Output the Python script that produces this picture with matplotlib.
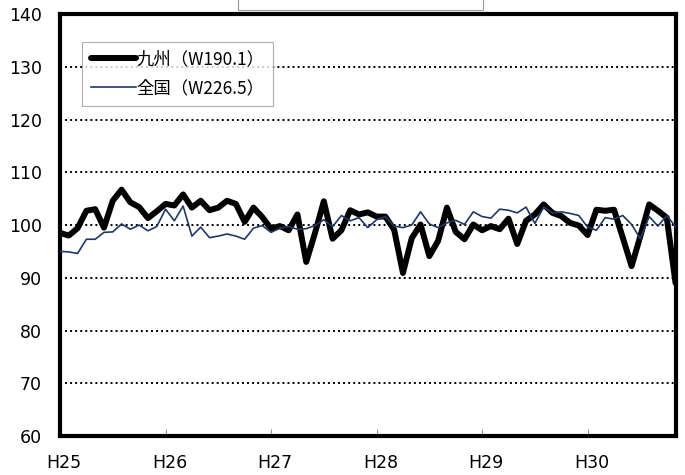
import matplotlib
matplotlib.use("Agg")
import matplotlib.pyplot as plt
import matplotlib.transforms as mtransforms
from matplotlib.patches import Rectangle

# monthly index, H25/1 .. H30/11
kyushu = [98.5, 98.0, 99.4, 102.7, 103.0, 99.5, 104.6, 106.7, 104.3, 103.4, 101.3, 102.6,
          104.0, 103.7, 105.8, 103.3, 104.6, 102.8, 103.3, 104.6, 104.0, 100.6, 103.3, 101.5,
          99.3, 99.8, 99.0, 102.0, 93.0, 98.5, 104.5, 97.4, 99.0, 102.8, 102.0, 102.4,
          101.6, 101.6, 99.1, 90.9, 97.5, 100.1, 94.1, 97.0, 103.3, 98.7, 97.3, 100.1,
          99.0, 99.8, 99.2, 101.2, 96.4, 100.8, 102.0, 103.9, 102.3, 101.7, 100.4, 99.9,
          98.1, 102.9, 102.7, 102.9, 97.6, 92.2, 97.9, 103.9, 102.7, 101.4, 89.0]
zenkoku = [95.0, 94.9, 94.6, 97.3, 97.3, 98.6, 98.7, 100.2, 99.2, 100.0, 98.9, 99.7,
           103.0, 100.8, 103.6, 97.9, 99.6, 97.6, 97.9, 98.3, 97.9, 97.3, 99.4, 99.9,
           98.6, 99.4, 99.7, 99.2, 99.3, 99.9, 101.0, 99.7, 101.8, 100.8, 101.4, 99.5,
           101.0, 101.6, 99.8, 99.5, 100.0, 102.5, 100.2, 99.5, 100.4, 100.9, 100.1, 102.5,
           101.6, 101.3, 103.0, 102.8, 102.3, 103.4, 100.3, 103.4, 102.3, 102.5, 102.2, 101.8,
           99.6, 99.0, 101.4, 101.1, 101.8, 100.1, 97.4, 101.6, 99.8, 101.8, 99.7]
year_labels = ["H25", "H26", "H27", "H28", "H29", "H30"]
legend_labels = ["九州（W190.1）", "全国（W226.5）"]

plt.rcParams['font.family'] = ['DejaVu Sans', 'Noto Sans CJK JP']

fig = plt.figure(figsize=(6.85, 4.75), dpi=100)
ax = fig.add_axes([0.0876, 0.0821, 0.8986, 0.8884])

months = list(range(len(kyushu)))
ax.plot(months, kyushu, color='black', lw=4.3, solid_joinstyle='round',
        solid_capstyle='round', label=legend_labels[0], zorder=3)
ax.plot(months, zenkoku, color='#1f3866', lw=1.2, label=legend_labels[1], zorder=4)

ax.set_xlim(0, len(kyushu) - 1)
ax.set_ylim(60, 140)
ax.set_yticks(range(60, 141, 10))
ax.set_xticks(range(0, 61, 12))
ax.set_xticklabels(year_labels)

for y in range(70, 140, 10):
    ax.axhline(y, color='black', lw=1.4, linestyle=(0, (1, 1.6)), zorder=1)

for s in ax.spines.values():
    s.set_linewidth(3)
    s.set_color('black')

ax.tick_params(axis='y', length=0, pad=13, labelsize=12.5)
ax.tick_params(axis='x', direction='in', length=5, width=0.8, color='#999999',
               pad=13, labelsize=12.5)
# year labels sit a little right of their tick
shift = mtransforms.ScaledTranslation(4 / 100, 0, fig.dpi_scale_trans)
for lbl in ax.get_xticklabels():
    lbl.set_transform(lbl.get_transform() + shift)

leg = ax.legend(loc='upper left', bbox_to_anchor=(0.036, 0.934), borderaxespad=0,
                frameon=True, fancybox=False, edgecolor='#999999', handlelength=2.6,
                handletextpad=0.0, borderpad=0.5, labelspacing=0.6,
                prop={'family': ['Noto Sans CJK JP', 'DejaVu Sans'], 'size': 12.5})
leg.get_frame().set_linewidth(0.8)

# box of the title area, cut off at the top edge
fig.patches.append(Rectangle((0.347, 0.979), 0.358, 0.1, transform=fig.transFigure,
                             fill=False, edgecolor='#999999', lw=0.8))

fig.savefig("out.png", dpi=100)
